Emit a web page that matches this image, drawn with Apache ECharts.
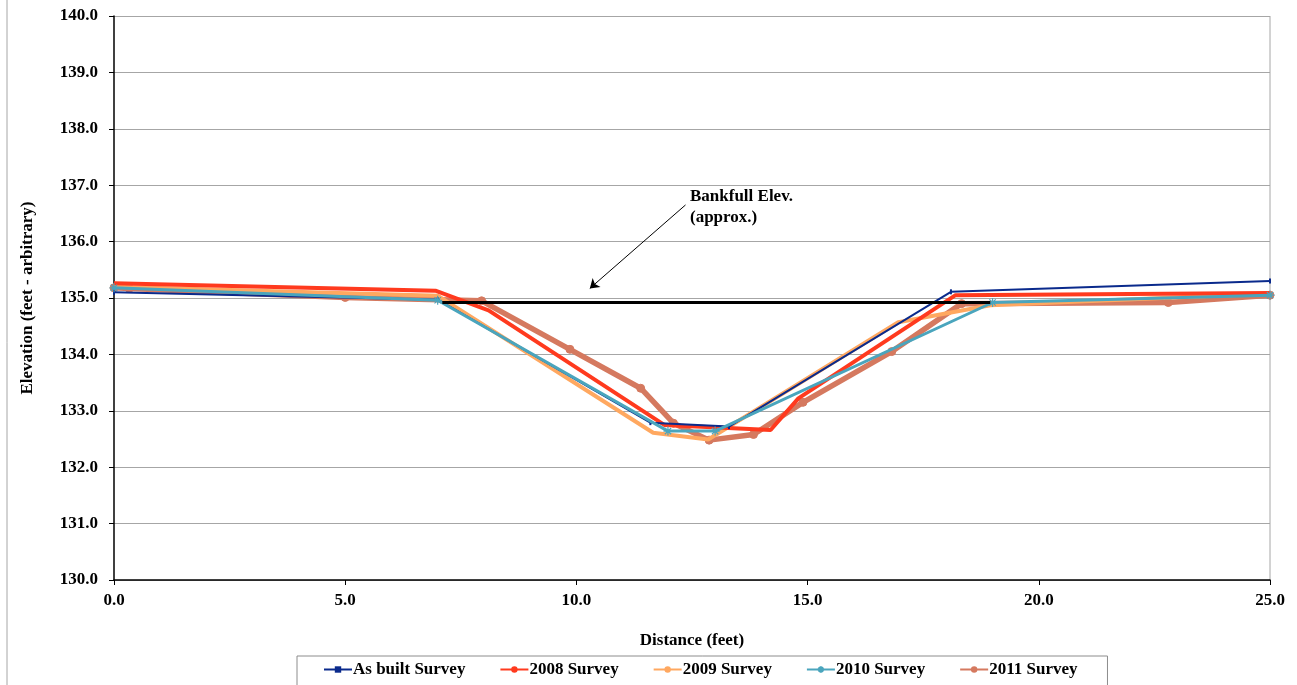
<!DOCTYPE html>
<html>
<head>
<meta charset="utf-8">
<script src="https://cdn.jsdelivr.net/npm/echarts@6/dist/echarts.min.js"></script>
<style>
  html, body { margin: 0; padding: 0; background: #fff; }
  #main { width: 1297px; height: 685px; }
</style>
</head>
<body>
<div id="main"></div>
<script>
// survey data: [distance (ft), elevation]
var asBuilt = [[0, 135.10], [7.0, 134.97], [11.6, 132.79], [13.3, 132.72], [18.1, 135.11], [25, 135.30]];
var survey2008 = [[0, 135.26], [6.95, 135.13], [8.1, 134.78], [11.9, 132.75], [14.2, 132.66], [14.8, 133.22], [18.2, 135.05], [25, 135.09]];
var survey2009 = [[0, 135.20], [7.0, 135.04], [11.66, 132.61], [12.85, 132.49], [16.96, 134.57], [18.95, 134.87], [25, 135.08]];
var survey2010 = [[0, 135.18], [7.0, 134.96], [11.98, 132.64], [13.0, 132.64], [19.0, 134.92], [25, 135.05]];
var survey2011 = [[0, 135.18], [0.33, 135.17], [5.0, 135.01], [7.95, 134.95], [9.86, 134.09], [11.39, 133.40], [12.1, 132.78],
  [12.87, 132.48], [13.83, 132.58], [14.9, 133.15], [16.82, 134.05], [18.33, 134.90], [22.8, 134.92], [25, 135.05]];
var bankfull = [[7.1, 134.92], [18.95, 134.92]];
var arrowFrom = [12.36, 136.65];
var arrowTo = [10.29, 135.17];

var seriesNames = ['As built Survey', '2008 Survey', '2009 Survey', '2010 Survey', '2011 Survey'];

var serif = 'Liberation Serif';
var star = 'path://M0,5L10,5M5,0L5,10M1.5,1.5L8.5,8.5M8.5,1.5L1.5,8.5';

var myChart = echarts.init(document.getElementById('main'));

var option = {
    animation: false,
    textStyle: { fontFamily: serif },
    grid: { left: 114, right: 27, top: 16, bottom: 105 },
    legend: {
        data: seriesNames,
        left: 297,
        top: 656,
        itemGap: 34,
        padding: [5, 30, 12, 26],
        borderColor: '#8c8c8c',
        borderWidth: 1,
        itemWidth: 28,
        itemHeight: 8,
        textStyle: { fontFamily: serif, fontWeight: 'bold', fontSize: 17, color: '#000', padding: [0, 0, 0, -4] }
    },
    xAxis: {
        type: 'value',
        min: 0, max: 25, interval: 5,
        name: 'Distance (feet)',
        nameLocation: 'middle',
        nameGap: 52,
        nameTextStyle: { fontFamily: serif, fontWeight: 'bold', fontSize: 17, color: '#000' },
        axisLine: { lineStyle: { color: '#000', width: 1.5 } },
        axisTick: { show: true, length: 5, lineStyle: { color: '#000' } },
        axisLabel: { fontFamily: serif, fontWeight: 'bold', fontSize: 17, color: '#000', margin: 12,
            formatter: function (v) { return v.toFixed(1); } },
        splitLine: { show: false }
    },
    yAxis: {
        type: 'value',
        min: 130, max: 140, interval: 1,
        name: 'Elevation (feet - arbitrary)',
        nameLocation: 'middle',
        nameGap: 78,
        nameTextStyle: { fontFamily: serif, fontWeight: 'bold', fontSize: 17, color: '#000' },
        axisLine: { show: true, lineStyle: { color: '#000', width: 1.5 } },
        axisTick: { show: true, length: 5, lineStyle: { color: '#000' } },
        axisLabel: { fontFamily: serif, fontWeight: 'bold', fontSize: 17, color: '#000', margin: 16,
            formatter: function (v) { return v.toFixed(1); } },
        splitLine: { lineStyle: { color: '#a6a6a6', width: 1 } }
    },
    graphic: [
        { type: 'line', shape: { x1: 7, y1: 0, x2: 7, y2: 685 }, style: { stroke: '#a6a6a6', lineWidth: 1 } },
        { type: 'line', shape: { x1: 1270, y1: 16, x2: 1270, y2: 580 }, style: { stroke: '#a6a6a6', lineWidth: 1 } },
        { type: 'text', left: 690, top: 186,
          style: { text: 'Bankfull Elev.\n(approx.)', font: 'bold 17px "Liberation Serif"', fill: '#000', lineHeight: 21 } }
    ],
    series: [
        {
            name: 'As built Survey', type: 'line', data: asBuilt,
            color: '#0a2a8c',
            lineStyle: { width: 2 },
            symbol: 'rect', symbolSize: [2, 5], showSymbol: true,
            z: 5
        },
        {
            name: '2008 Survey', type: 'line', data: survey2008,
            color: '#ff3a1e',
            lineStyle: { width: 4 },
            symbol: 'none',
            z: 4
        },
        {
            name: '2009 Survey', type: 'line', data: survey2009,
            color: '#ffa860',
            lineStyle: { width: 4 },
            symbol: 'none',
            z: 3
        },
        {
            name: '2010 Survey', type: 'line', data: survey2010,
            color: '#4aa5bd',
            lineStyle: { width: 3, color: '#4aa5bd' },
            symbol: star, symbolSize: 9,
            itemStyle: { color: '#4aa5bd', borderColor: '#4aa5bd', borderWidth: 1.2 },
            z: 6
        },
        {
            name: '2011 Survey', type: 'line', data: survey2011,
            color: '#c96c66',
            lineStyle: { width: 5.5 },
            symbol: 'circle', symbolSize: 8,
            itemStyle: { color: '#d5795f', borderColor: '#d5795f' },
            z: 2
        },
        {
            name: 'Bankfull', type: 'line', data: bankfull,
            color: '#000',
            lineStyle: { width: 3 },
            symbol: 'none',
            z: 7,
            markLine: {
                silent: true,
                symbol: ['none', 'arrow'],
                symbolSize: 9,
                label: { show: false },
                lineStyle: { color: '#000', width: 1, type: 'solid' },
                data: [[{ coord: arrowFrom }, { coord: arrowTo }]]
            }
        }
    ]
};

myChart.setOption(option);
</script>
</body>
</html>
